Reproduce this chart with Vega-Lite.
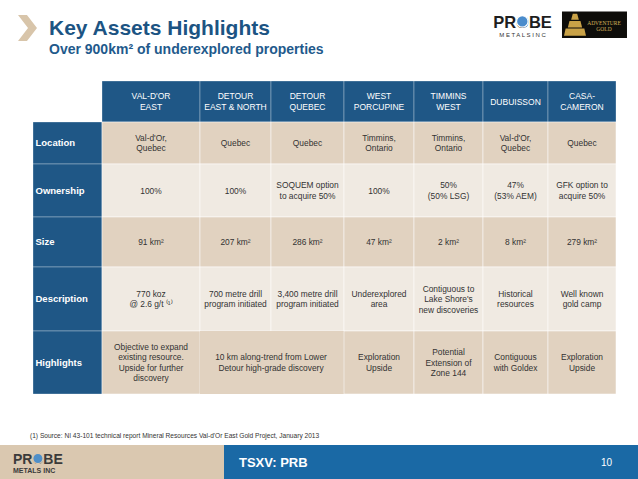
{
"$schema":"https://vega.github.io/schema/vega-lite/v6.json",
"background":"#ffffff",
"padding":0,
"spacing":0,
"config":{"view":{"stroke":null},"text":{"font":"Liberation Sans","fontSize":8.4,"color":"#333333","lineBreak":"\n","lineHeight":10.5}},
"vconcat":[
{"hconcat":[
 {"width":49,"height":80,"data":{"values":[{"icon":"chevron"}]},"mark":{"type":"point","shape":"M-0.73,-1L-0.04,-1L0.73,0L-0.04,1L-0.73,1L0.04,0Z","size":676,"filled":true,"fill":"#d8c5aa","strokeWidth":0,"opacity":1,"xOffset":3,"yOffset":-12},"encoding":{}},
 {"width":431,"height":80,"layer":[
  {"data":{"values":[{"k":"heading","text":"Key Assets Highlights"}]},"mark":{"type":"text","align":"left","baseline":"alphabetic","fontSize":21,"fontWeight":"bold","color":"#1c5483","dy":-5},"encoding":{"x":{"field":"k","type":"nominal","axis":null,"bandPosition":0,"scale":{"type":"band","paddingInner":0,"paddingOuter":0}},"text":{"field":"text"}}},
  {"data":{"values":[{"k":"heading","text":"Over 900km² of underexplored properties"}]},"mark":{"type":"text","align":"left","baseline":"alphabetic","fontSize":14,"fontWeight":"bold","color":"#1f5a8c","dy":14},"encoding":{"x":{"field":"k","type":"nominal","axis":null,"bandPosition":0,"scale":{"type":"band","paddingInner":0,"paddingOuter":0}},"text":{"field":"text"}}}
 ]},
 {"width":158,"height":80,"layer":[
  {"data":{"values":[{"slot":"gold","band":"box"}]},"mark":{"type":"rect","fill":"#0e0d0a","strokeWidth":0},"encoding":{"x":{"field":"slot","type":"nominal","axis":null,"scale":{"type":"band","domain":["probe","gold"],"paddingInner":0.097,"paddingOuter":0.146,"align":0.476}},"y":{"field":"band","type":"nominal","axis":null,"scale":{"type":"band","domain":["box"],"paddingInner":0,"paddingOuter":1.167,"align":0.214}}}},
  {"data":{"values":[{"slot":"gold","band":"box"}]},"mark":{"type":"point","shape":"M-1,1L-0.85,0.35L0.85,0.35L1,1ZM-0.65,0.25L-0.5,-0.35L0.5,-0.35L0.65,0.25ZM-0.35,-0.45L-0.2,-1L0.2,-1L0.35,-0.45Z","size":484,"filled":true,"fill":"#c9a247","strokeWidth":0,"opacity":1},"encoding":{"x":{"field":"slot","type":"nominal","axis":null,"bandPosition":0.2,"scale":{"type":"band","domain":["probe","gold"],"paddingInner":0.097,"paddingOuter":0.146,"align":0.476}},"y":{"field":"band","type":"nominal","axis":null,"bandPosition":0.5,"scale":{"type":"band","domain":["box"],"paddingInner":0,"paddingOuter":1.167,"align":0.214}}}},
  {"data":{"values":[{"slot":"gold","band":"box","text":"ADVENTURE\nGOLD"}]},"mark":{"type":"text","fontSize":5.5,"lineHeight":6.5,"color":"#d4b25a","font":"Liberation Serif"},"encoding":{"x":{"field":"slot","type":"nominal","axis":null,"bandPosition":0.646,"scale":{"type":"band","domain":["probe","gold"],"paddingInner":0.097,"paddingOuter":0.146,"align":0.476}},"y":{"field":"band","type":"nominal","axis":null,"bandPosition":0.417,"scale":{"type":"band","domain":["box"],"paddingInner":0,"paddingOuter":1.167,"align":0.214}},"text":{"field":"text"}}},
  {"data":{"values":[{"slot":"probe","band":"box","text":"PROBE"}]},"mark":{"type":"text","baseline":"alphabetic","fontSize":16.5,"fontWeight":"bold","color":"#1e1e1e"},"encoding":{"x":{"field":"slot","type":"nominal","axis":null,"bandPosition":0.5,"scale":{"type":"band","domain":["probe","gold"],"paddingInner":0.097,"paddingOuter":0.146,"align":0.476}},"y":{"field":"band","type":"nominal","axis":null,"bandPosition":0.625,"scale":{"type":"band","domain":["box"],"paddingInner":0,"paddingOuter":1.167,"align":0.214}},"text":{"field":"text"}}},
  {"data":{"values":[{"slot":"probe","band":"box"}]},"mark":{"type":"point","shape":"circle","size":133,"filled":true,"fill":"#4a8ccc","stroke":"#ffffff","strokeWidth":1.2,"opacity":1},"encoding":{"x":{"field":"slot","type":"nominal","axis":null,"bandPosition":0.497,"scale":{"type":"band","domain":["probe","gold"],"paddingInner":0.097,"paddingOuter":0.146,"align":0.476}},"y":{"field":"band","type":"nominal","axis":null,"bandPosition":0.375,"scale":{"type":"band","domain":["box"],"paddingInner":0,"paddingOuter":1.167,"align":0.214}}}},
  {"data":{"values":[{"slot":"probe","band":"box","text":"M E T A L S    I N C"}]},"mark":{"type":"text","fontSize":6,"color":"#333333"},"encoding":{"x":{"field":"slot","type":"nominal","axis":null,"bandPosition":0.5,"scale":{"type":"band","domain":["probe","gold"],"paddingInner":0.097,"paddingOuter":0.146,"align":0.476}},"y":{"field":"band","type":"nominal","axis":null,"bandPosition":0.875,"scale":{"type":"band","domain":["box"],"paddingInner":0,"paddingOuter":1.167,"align":0.214}},"text":{"field":"text"}}}
 ]}
],"spacing":0},
{"hconcat":[
 {"width":32,"height":313,"data":{"values":[]},"mark":{"type":"rect","fill":"#ffffff"},"encoding":{}},
 {"concat":[
  {"width":69,"height":41,"data":{"values":[]},"mark":{"type":"rect","fill":"#ffffff"},"encoding":{}},
  {"width":98,"height":41,"data":{"values":[{"asset":"Val-d'Or East","value":"VAL-D'OR\nEAST"}]},"layer":[{"mark":{"type":"rect","fill":"#1f5786","stroke":"#ffffff","strokeOpacity":0.3,"strokeWidth":1},"encoding":{}},{"mark":{"type":"text","fontSize":8.5,"color":"#ffffff","lineHeight":11.5,"dy":-5.75},"encoding":{"text":{"field":"value"}}}]},
  {"width":71,"height":41,"data":{"values":[{"asset":"Detour East & North","value":"DETOUR\nEAST & NORTH"}]},"layer":[{"mark":{"type":"rect","fill":"#1f5786","stroke":"#ffffff","strokeOpacity":0.3,"strokeWidth":1},"encoding":{}},{"mark":{"type":"text","fontSize":8.5,"color":"#ffffff","lineHeight":11.5,"dy":-5.75},"encoding":{"text":{"field":"value"}}}]},
  {"width":73,"height":41,"data":{"values":[{"asset":"Detour Quebec","value":"DETOUR\nQUEBEC"}]},"layer":[{"mark":{"type":"rect","fill":"#1f5786","stroke":"#ffffff","strokeOpacity":0.3,"strokeWidth":1},"encoding":{}},{"mark":{"type":"text","fontSize":8.5,"color":"#ffffff","lineHeight":11.5,"dy":-5.75},"encoding":{"text":{"field":"value"}}}]},
  {"width":70,"height":41,"data":{"values":[{"asset":"West Porcupine","value":"WEST\nPORCUPINE"}]},"layer":[{"mark":{"type":"rect","fill":"#1f5786","stroke":"#ffffff","strokeOpacity":0.3,"strokeWidth":1},"encoding":{}},{"mark":{"type":"text","fontSize":8.5,"color":"#ffffff","lineHeight":11.5,"dy":-5.75},"encoding":{"text":{"field":"value"}}}]},
  {"width":69,"height":41,"data":{"values":[{"asset":"Timmins West","value":"TIMMINS\nWEST"}]},"layer":[{"mark":{"type":"rect","fill":"#1f5786","stroke":"#ffffff","strokeOpacity":0.3,"strokeWidth":1},"encoding":{}},{"mark":{"type":"text","fontSize":8.5,"color":"#ffffff","lineHeight":11.5,"dy":-5.75},"encoding":{"text":{"field":"value"}}}]},
  {"width":65,"height":41,"data":{"values":[{"asset":"Dubuisson","value":"DUBUISSON"}]},"layer":[{"mark":{"type":"rect","fill":"#1f5786","stroke":"#ffffff","strokeOpacity":0.3,"strokeWidth":1},"encoding":{}},{"mark":{"type":"text","fontSize":8.5,"color":"#ffffff","lineHeight":11.5},"encoding":{"text":{"field":"value"}}}]},
  {"width":68,"height":41,"data":{"values":[{"asset":"Casa-Cameron","value":"CASA-\nCAMERON"}]},"layer":[{"mark":{"type":"rect","fill":"#1f5786","stroke":"#ffffff","strokeOpacity":0.3,"strokeWidth":1},"encoding":{}},{"mark":{"type":"text","fontSize":8.5,"color":"#ffffff","lineHeight":11.5,"dy":-5.75},"encoding":{"text":{"field":"value"}}}]},

  {"width":69,"height":42,"data":{"values":[{"attribute":"Location"}]},"layer":[{"mark":{"type":"rect","fill":"#1f5786","stroke":"#ffffff","strokeOpacity":0.3,"strokeWidth":1},"encoding":{}},{"mark":{"type":"text","align":"left","dx":2.5,"fontSize":9.5,"fontWeight":"bold","color":"#ffffff"},"encoding":{"x":{"field":"attribute","type":"nominal","axis":null,"bandPosition":0,"scale":{"type":"band","paddingInner":0,"paddingOuter":0}},"text":{"field":"attribute"}}}]},
  {"width":98,"height":42,"data":{"values":[{"asset":"Val-d'Or East","attribute":"Location","value":"Val-d'Or,\nQuebec"}]},"layer":[{"mark":{"type":"rect","fill":"#e1d2c0","stroke":"#ffffff","strokeOpacity":0.5,"strokeWidth":1},"encoding":{}},{"mark":{"type":"text","dy":-5.25},"encoding":{"text":{"field":"value"}}}]},
  {"width":71,"height":42,"data":{"values":[{"asset":"Detour East & North","attribute":"Location","value":"Quebec"}]},"layer":[{"mark":{"type":"rect","fill":"#e1d2c0","stroke":"#ffffff","strokeOpacity":0.5,"strokeWidth":1},"encoding":{}},{"mark":{"type":"text"},"encoding":{"text":{"field":"value"}}}]},
  {"width":73,"height":42,"data":{"values":[{"asset":"Detour Quebec","attribute":"Location","value":"Quebec"}]},"layer":[{"mark":{"type":"rect","fill":"#e1d2c0","stroke":"#ffffff","strokeOpacity":0.5,"strokeWidth":1},"encoding":{}},{"mark":{"type":"text"},"encoding":{"text":{"field":"value"}}}]},
  {"width":70,"height":42,"data":{"values":[{"asset":"West Porcupine","attribute":"Location","value":"Timmins,\nOntario"}]},"layer":[{"mark":{"type":"rect","fill":"#e1d2c0","stroke":"#ffffff","strokeOpacity":0.5,"strokeWidth":1},"encoding":{}},{"mark":{"type":"text","dy":-5.25},"encoding":{"text":{"field":"value"}}}]},
  {"width":69,"height":42,"data":{"values":[{"asset":"Timmins West","attribute":"Location","value":"Timmins,\nOntario"}]},"layer":[{"mark":{"type":"rect","fill":"#e1d2c0","stroke":"#ffffff","strokeOpacity":0.5,"strokeWidth":1},"encoding":{}},{"mark":{"type":"text","dy":-5.25},"encoding":{"text":{"field":"value"}}}]},
  {"width":65,"height":42,"data":{"values":[{"asset":"Dubuisson","attribute":"Location","value":"Val-d'Or,\nQuebec"}]},"layer":[{"mark":{"type":"rect","fill":"#e1d2c0","stroke":"#ffffff","strokeOpacity":0.5,"strokeWidth":1},"encoding":{}},{"mark":{"type":"text","dy":-5.25},"encoding":{"text":{"field":"value"}}}]},
  {"width":68,"height":42,"data":{"values":[{"asset":"Casa-Cameron","attribute":"Location","value":"Quebec"}]},"layer":[{"mark":{"type":"rect","fill":"#e1d2c0","stroke":"#ffffff","strokeOpacity":0.5,"strokeWidth":1},"encoding":{}},{"mark":{"type":"text"},"encoding":{"text":{"field":"value"}}}]},

  {"width":69,"height":53,"data":{"values":[{"attribute":"Ownership"}]},"layer":[{"mark":{"type":"rect","fill":"#1f5786","stroke":"#ffffff","strokeOpacity":0.3,"strokeWidth":1},"encoding":{}},{"mark":{"type":"text","align":"left","dx":2.5,"fontSize":9.5,"fontWeight":"bold","color":"#ffffff"},"encoding":{"x":{"field":"attribute","type":"nominal","axis":null,"bandPosition":0,"scale":{"type":"band","paddingInner":0,"paddingOuter":0}},"text":{"field":"attribute"}}}]},
  {"width":98,"height":53,"data":{"values":[{"asset":"Val-d'Or East","attribute":"Ownership","value":"100%"}]},"layer":[{"mark":{"type":"rect","fill":"#f0eae2","stroke":"#ffffff","strokeOpacity":0.5,"strokeWidth":1},"encoding":{}},{"mark":{"type":"text"},"encoding":{"text":{"field":"value"}}}]},
  {"width":71,"height":53,"data":{"values":[{"asset":"Detour East & North","attribute":"Ownership","value":"100%"}]},"layer":[{"mark":{"type":"rect","fill":"#f0eae2","stroke":"#ffffff","strokeOpacity":0.5,"strokeWidth":1},"encoding":{}},{"mark":{"type":"text"},"encoding":{"text":{"field":"value"}}}]},
  {"width":73,"height":53,"data":{"values":[{"asset":"Detour Quebec","attribute":"Ownership","value":"SOQUEM option\nto acquire 50%"}]},"layer":[{"mark":{"type":"rect","fill":"#f0eae2","stroke":"#ffffff","strokeOpacity":0.5,"strokeWidth":1},"encoding":{}},{"mark":{"type":"text","dy":-5.25},"encoding":{"text":{"field":"value"}}}]},
  {"width":70,"height":53,"data":{"values":[{"asset":"West Porcupine","attribute":"Ownership","value":"100%"}]},"layer":[{"mark":{"type":"rect","fill":"#f0eae2","stroke":"#ffffff","strokeOpacity":0.5,"strokeWidth":1},"encoding":{}},{"mark":{"type":"text"},"encoding":{"text":{"field":"value"}}}]},
  {"width":69,"height":53,"data":{"values":[{"asset":"Timmins West","attribute":"Ownership","value":"50%\n(50% LSG)"}]},"layer":[{"mark":{"type":"rect","fill":"#f0eae2","stroke":"#ffffff","strokeOpacity":0.5,"strokeWidth":1},"encoding":{}},{"mark":{"type":"text","dy":-5.25},"encoding":{"text":{"field":"value"}}}]},
  {"width":65,"height":53,"data":{"values":[{"asset":"Dubuisson","attribute":"Ownership","value":"47%\n(53% AEM)"}]},"layer":[{"mark":{"type":"rect","fill":"#f0eae2","stroke":"#ffffff","strokeOpacity":0.5,"strokeWidth":1},"encoding":{}},{"mark":{"type":"text","dy":-5.25},"encoding":{"text":{"field":"value"}}}]},
  {"width":68,"height":53,"data":{"values":[{"asset":"Casa-Cameron","attribute":"Ownership","value":"GFK option to\nacquire 50%"}]},"layer":[{"mark":{"type":"rect","fill":"#f0eae2","stroke":"#ffffff","strokeOpacity":0.5,"strokeWidth":1},"encoding":{}},{"mark":{"type":"text","dy":-5.25},"encoding":{"text":{"field":"value"}}}]},

  {"width":69,"height":50,"data":{"values":[{"attribute":"Size"}]},"layer":[{"mark":{"type":"rect","fill":"#1f5786","stroke":"#ffffff","strokeOpacity":0.3,"strokeWidth":1},"encoding":{}},{"mark":{"type":"text","align":"left","dx":2.5,"fontSize":9.5,"fontWeight":"bold","color":"#ffffff"},"encoding":{"x":{"field":"attribute","type":"nominal","axis":null,"bandPosition":0,"scale":{"type":"band","paddingInner":0,"paddingOuter":0}},"text":{"field":"attribute"}}}]},
  {"width":98,"height":50,"data":{"values":[{"asset":"Val-d'Or East","attribute":"Size","value":"91 km²"}]},"layer":[{"mark":{"type":"rect","fill":"#e1d2c0","stroke":"#ffffff","strokeOpacity":0.5,"strokeWidth":1},"encoding":{}},{"mark":{"type":"text"},"encoding":{"text":{"field":"value"}}}]},
  {"width":71,"height":50,"data":{"values":[{"asset":"Detour East & North","attribute":"Size","value":"207 km²"}]},"layer":[{"mark":{"type":"rect","fill":"#e1d2c0","stroke":"#ffffff","strokeOpacity":0.5,"strokeWidth":1},"encoding":{}},{"mark":{"type":"text"},"encoding":{"text":{"field":"value"}}}]},
  {"width":73,"height":50,"data":{"values":[{"asset":"Detour Quebec","attribute":"Size","value":"286 km²"}]},"layer":[{"mark":{"type":"rect","fill":"#e1d2c0","stroke":"#ffffff","strokeOpacity":0.5,"strokeWidth":1},"encoding":{}},{"mark":{"type":"text"},"encoding":{"text":{"field":"value"}}}]},
  {"width":70,"height":50,"data":{"values":[{"asset":"West Porcupine","attribute":"Size","value":"47 km²"}]},"layer":[{"mark":{"type":"rect","fill":"#e1d2c0","stroke":"#ffffff","strokeOpacity":0.5,"strokeWidth":1},"encoding":{}},{"mark":{"type":"text"},"encoding":{"text":{"field":"value"}}}]},
  {"width":69,"height":50,"data":{"values":[{"asset":"Timmins West","attribute":"Size","value":"2 km²"}]},"layer":[{"mark":{"type":"rect","fill":"#e1d2c0","stroke":"#ffffff","strokeOpacity":0.5,"strokeWidth":1},"encoding":{}},{"mark":{"type":"text"},"encoding":{"text":{"field":"value"}}}]},
  {"width":65,"height":50,"data":{"values":[{"asset":"Dubuisson","attribute":"Size","value":"8 km²"}]},"layer":[{"mark":{"type":"rect","fill":"#e1d2c0","stroke":"#ffffff","strokeOpacity":0.5,"strokeWidth":1},"encoding":{}},{"mark":{"type":"text"},"encoding":{"text":{"field":"value"}}}]},
  {"width":68,"height":50,"data":{"values":[{"asset":"Casa-Cameron","attribute":"Size","value":"279 km²"}]},"layer":[{"mark":{"type":"rect","fill":"#e1d2c0","stroke":"#ffffff","strokeOpacity":0.5,"strokeWidth":1},"encoding":{}},{"mark":{"type":"text"},"encoding":{"text":{"field":"value"}}}]},

  {"width":69,"height":64,"data":{"values":[{"attribute":"Description"}]},"layer":[{"mark":{"type":"rect","fill":"#1f5786","stroke":"#ffffff","strokeOpacity":0.3,"strokeWidth":1},"encoding":{}},{"mark":{"type":"text","align":"left","dx":2.5,"fontSize":9.5,"fontWeight":"bold","color":"#ffffff"},"encoding":{"x":{"field":"attribute","type":"nominal","axis":null,"bandPosition":0,"scale":{"type":"band","paddingInner":0,"paddingOuter":0}},"text":{"field":"attribute"}}}]},
  {"width":98,"height":64,"data":{"values":[{"asset":"Val-d'Or East","attribute":"Description","value":"770 koz\n@ 2.6 g/t ⁽¹⁾"}]},"layer":[{"mark":{"type":"rect","fill":"#f0eae2","stroke":"#ffffff","strokeOpacity":0.5,"strokeWidth":1},"encoding":{}},{"mark":{"type":"text","dy":-5.25},"encoding":{"text":{"field":"value"}}}]},
  {"width":71,"height":64,"data":{"values":[{"asset":"Detour East & North","attribute":"Description","value":"700 metre drill\nprogram initiated"}]},"layer":[{"mark":{"type":"rect","fill":"#f0eae2","stroke":"#ffffff","strokeOpacity":0.5,"strokeWidth":1},"encoding":{}},{"mark":{"type":"text","dy":-5.25},"encoding":{"text":{"field":"value"}}}]},
  {"width":73,"height":64,"data":{"values":[{"asset":"Detour Quebec","attribute":"Description","value":"3,400 metre drill\nprogram initiated"}]},"layer":[{"mark":{"type":"rect","fill":"#f0eae2","stroke":"#ffffff","strokeOpacity":0.5,"strokeWidth":1},"encoding":{}},{"mark":{"type":"text","dy":-5.25},"encoding":{"text":{"field":"value"}}}]},
  {"width":70,"height":64,"data":{"values":[{"asset":"West Porcupine","attribute":"Description","value":"Underexplored\narea"}]},"layer":[{"mark":{"type":"rect","fill":"#f0eae2","stroke":"#ffffff","strokeOpacity":0.5,"strokeWidth":1},"encoding":{}},{"mark":{"type":"text","dy":-5.25},"encoding":{"text":{"field":"value"}}}]},
  {"width":69,"height":64,"data":{"values":[{"asset":"Timmins West","attribute":"Description","value":"Contiguous to\nLake Shore's\nnew discoveries"}]},"layer":[{"mark":{"type":"rect","fill":"#f0eae2","stroke":"#ffffff","strokeOpacity":0.5,"strokeWidth":1},"encoding":{}},{"mark":{"type":"text","dy":-10.5},"encoding":{"text":{"field":"value"}}}]},
  {"width":65,"height":64,"data":{"values":[{"asset":"Dubuisson","attribute":"Description","value":"Historical\nresources"}]},"layer":[{"mark":{"type":"rect","fill":"#f0eae2","stroke":"#ffffff","strokeOpacity":0.5,"strokeWidth":1},"encoding":{}},{"mark":{"type":"text","dy":-5.25},"encoding":{"text":{"field":"value"}}}]},
  {"width":68,"height":64,"data":{"values":[{"asset":"Casa-Cameron","attribute":"Description","value":"Well known\ngold camp"}]},"layer":[{"mark":{"type":"rect","fill":"#f0eae2","stroke":"#ffffff","strokeOpacity":0.5,"strokeWidth":1},"encoding":{}},{"mark":{"type":"text","dy":-5.25},"encoding":{"text":{"field":"value"}}}]},

  {"width":69,"height":63,"data":{"values":[{"attribute":"Highlights"}]},"layer":[{"mark":{"type":"rect","fill":"#1f5786","stroke":"#ffffff","strokeOpacity":0.3,"strokeWidth":1},"encoding":{}},{"mark":{"type":"text","align":"left","dx":2.5,"fontSize":9.5,"fontWeight":"bold","color":"#ffffff"},"encoding":{"x":{"field":"attribute","type":"nominal","axis":null,"bandPosition":0,"scale":{"type":"band","paddingInner":0,"paddingOuter":0}},"text":{"field":"attribute"}}}]},
  {"width":98,"height":63,"data":{"values":[{"asset":"Val-d'Or East","attribute":"Highlights","value":"Objective to expand\nexisting resource.\nUpside for further\ndiscovery"}]},"layer":[{"mark":{"type":"rect","fill":"#e1d2c0","stroke":"#ffffff","strokeOpacity":0.5,"strokeWidth":1},"encoding":{}},{"mark":{"type":"text","dy":-15.75},"encoding":{"text":{"field":"value"}}}]},
  {"width":71,"height":63,"data":{"values":[{"asset":"Detour East & North","attribute":"Highlights"}]},"mark":{"type":"rect","fill":"#e1d2c0","strokeWidth":0},"encoding":{}},
  {"width":73,"height":63,"data":{"values":[{"asset":"Detour Quebec","attribute":"Highlights","value":"10 km along-trend from Lower\nDetour high-grade discovery"}]},"layer":[{"mark":{"type":"rect","fill":"#e1d2c0","strokeWidth":0},"encoding":{}},{"mark":{"type":"text","dy":-5.25},"encoding":{"x":{"field":"asset","type":"nominal","axis":null,"bandPosition":0,"scale":{"type":"band","paddingInner":0,"paddingOuter":0}},"text":{"field":"value"}}}]},
  {"width":70,"height":63,"data":{"values":[{"asset":"West Porcupine","attribute":"Highlights","value":"Exploration\nUpside"}]},"layer":[{"mark":{"type":"rect","fill":"#e1d2c0","stroke":"#ffffff","strokeOpacity":0.5,"strokeWidth":1},"encoding":{}},{"mark":{"type":"text","dy":-5.25},"encoding":{"text":{"field":"value"}}}]},
  {"width":69,"height":63,"data":{"values":[{"asset":"Timmins West","attribute":"Highlights","value":"Potential\nExtension of\nZone 144"}]},"layer":[{"mark":{"type":"rect","fill":"#e1d2c0","stroke":"#ffffff","strokeOpacity":0.5,"strokeWidth":1},"encoding":{}},{"mark":{"type":"text","dy":-10.5},"encoding":{"text":{"field":"value"}}}]},
  {"width":65,"height":63,"data":{"values":[{"asset":"Dubuisson","attribute":"Highlights","value":"Contiguous\nwith Goldex"}]},"layer":[{"mark":{"type":"rect","fill":"#e1d2c0","stroke":"#ffffff","strokeOpacity":0.5,"strokeWidth":1},"encoding":{}},{"mark":{"type":"text","dy":-5.25},"encoding":{"text":{"field":"value"}}}]},
  {"width":68,"height":63,"data":{"values":[{"asset":"Casa-Cameron","attribute":"Highlights","value":"Exploration\nUpside"}]},"layer":[{"mark":{"type":"rect","fill":"#e1d2c0","stroke":"#ffffff","strokeOpacity":0.5,"strokeWidth":1},"encoding":{}},{"mark":{"type":"text","dy":-5.25},"encoding":{"text":{"field":"value"}}}]}
 ],"columns":8,"spacing":0,"bounds":"flush"}
],"spacing":0},
{"width":638,"height":50,"data":{"values":[{"k":"note","text":"(1)  Source: NI 43-101 technical report Mineral Resources Val-d'Or East Gold Project, January 2013"}]},"mark":{"type":"text","align":"left","baseline":"middle","fontSize":6.6,"color":"#333333","dx":30,"dy":16},"encoding":{"x":{"field":"k","type":"nominal","axis":null,"bandPosition":0,"scale":{"type":"band","paddingInner":0,"paddingOuter":0}},"text":{"field":"text"}}},
{"hconcat":[
 {"width":224,"height":34,"layer":[
  {"data":{"values":[{"k":"brand"}]},"mark":{"type":"rect","fill":"#dac8b0","strokeWidth":0},"encoding":{}},
  {"data":{"values":[{"k":"brand","text":"PROBE"}]},"mark":{"type":"text","align":"left","baseline":"alphabetic","fontSize":14,"fontWeight":"bold","color":"#3a3a3a","dx":13,"dy":1.5},"encoding":{"x":{"field":"k","type":"nominal","axis":null,"bandPosition":0,"scale":{"type":"band","paddingInner":0,"paddingOuter":0}},"text":{"field":"text"}}},
  {"data":{"values":[{"k":"brand"}]},"mark":{"type":"point","shape":"circle","size":104,"filled":true,"fill":"#4f8fc8","stroke":"#dac8b0","strokeWidth":1.2,"opacity":1,"xOffset":37.9,"yOffset":-3.5},"encoding":{"x":{"field":"k","type":"nominal","axis":null,"bandPosition":0,"scale":{"type":"band","paddingInner":0,"paddingOuter":0}}}},
  {"data":{"values":[{"k":"brand","text":"METALS INC"}]},"mark":{"type":"text","align":"left","baseline":"alphabetic","fontSize":7,"fontWeight":"bold","color":"#3a3a3a","dx":13,"dy":11},"encoding":{"x":{"field":"k","type":"nominal","axis":null,"bandPosition":0,"scale":{"type":"band","paddingInner":0,"paddingOuter":0}},"text":{"field":"text"}}}
 ]},
 {"width":414,"height":34,"layer":[
  {"data":{"values":[{"k":"ticker"}]},"mark":{"type":"rect","fill":"#1a69a5","strokeWidth":0},"encoding":{}},
  {"data":{"values":[{"k":"ticker","text":"TSXV: PRB"}]},"mark":{"type":"text","align":"left","baseline":"alphabetic","fontSize":13,"fontWeight":"bold","color":"#ffffff","dx":15,"dy":5},"encoding":{"x":{"field":"k","type":"nominal","axis":null,"bandPosition":0,"scale":{"type":"band","paddingInner":0,"paddingOuter":0}},"text":{"field":"text"}}},
  {"data":{"values":[{"k":"ticker","text":"10"}]},"mark":{"type":"text","align":"right","baseline":"alphabetic","fontSize":10,"color":"#ffffff","dx":-26,"dy":3.5},"encoding":{"x":{"field":"k","type":"nominal","axis":null,"bandPosition":1,"scale":{"type":"band","paddingInner":0,"paddingOuter":0}},"text":{"field":"text"}}}
 ]}
],"spacing":0}
]
}
